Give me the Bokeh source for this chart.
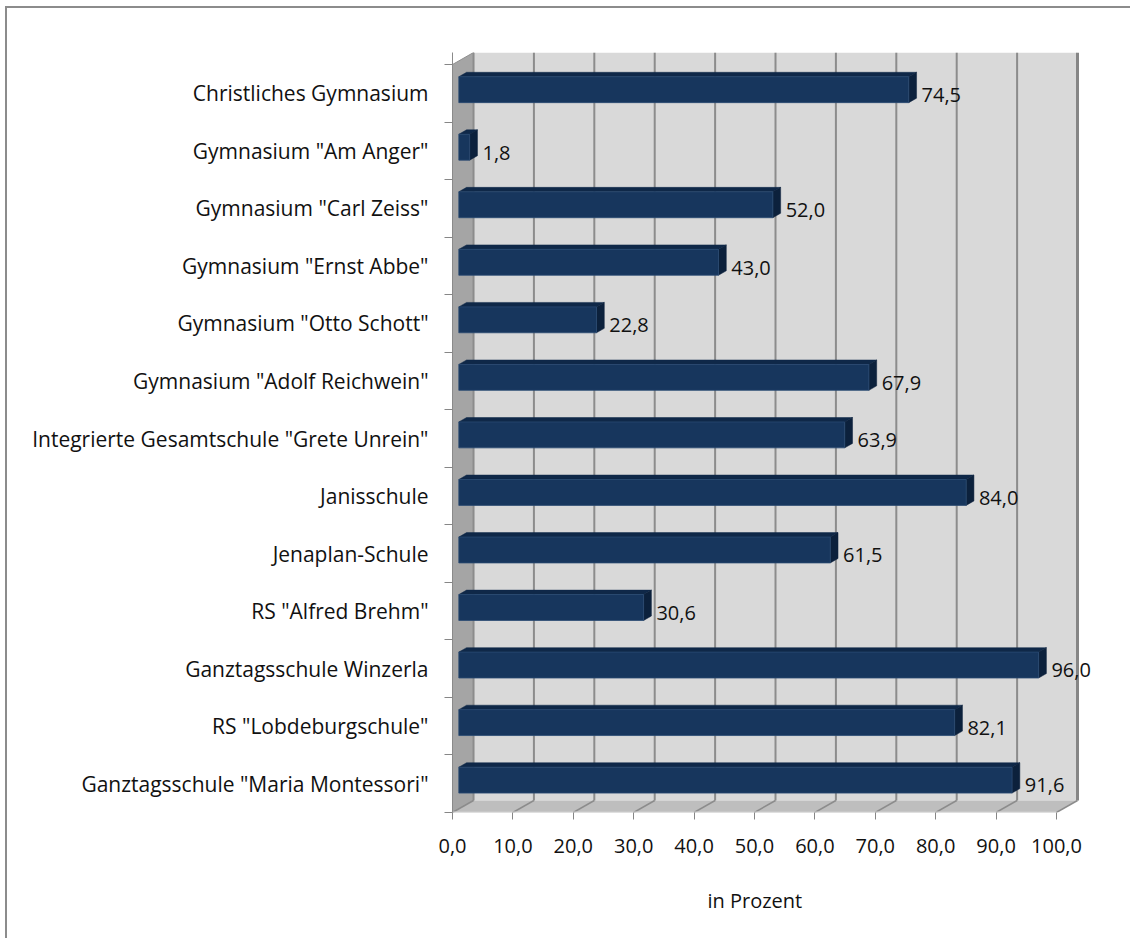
from bokeh.plotting import figure
from bokeh.models import Range1d, FixedTicker, CustomJSTickFormatter, ColumnDataSource, LabelSet, Title
from bokeh.core.properties import value
from bokeh.embed import file_html
from bokeh.resources import INLINE

# ---- data ----
schools = [
    'Christliches Gymnasium',
    'Gymnasium "Am Anger"',
    'Gymnasium "Carl Zeiss"',
    'Gymnasium "Ernst Abbe"',
    'Gymnasium "Otto Schott"',
    'Gymnasium "Adolf Reichwein"',
    'Integrierte Gesamtschule "Grete Unrein"',
    'Janisschule',
    'Jenaplan-Schule',
    'RS "Alfred Brehm"',
    'Ganztagsschule Winzerla',
    'RS "Lobdeburgschule"',
    'Ganztagsschule "Maria Montessori"',
]
percent = [74.5, 1.8, 52.0, 43.0, 22.8, 67.9, 63.9, 84.0, 61.5, 30.6, 96.0, 82.1, 91.6]
x_ticks = [0, 10, 20, 30, 40, 50, 60, 70, 80, 90, 100]
x_title = "in Prozent"

# ---- 3D geometry (style) ----
FONT = "Open Sans"
FS = "20px"
FS_CAT = "21px"
n = len(schools)
XMAX = x_ticks[-1]
DX = 3.48      # depth offset in x (data units)
DY = 0.209     # depth offset in y (category units)
D0, D1 = 0.30, 0.67   # bar front/back depth fraction
H = 0.45       # bar height
WALL_W = 625   # px width of the plotting box incl. depth
FRAME_W = 655  # frame a bit wider so labels beyond the wall are not clipped
PXU = WALL_W / (XMAX + DX)

p = figure(frame_width=FRAME_W, frame_height=760,
           x_range=Range1d(0, FRAME_W / PXU), y_range=Range1d(0, n + DY),
           output_backend="svg", toolbar_location=None,
           min_border_left=445, min_border_right=23,
           min_border_top=44, min_border_bottom=124,
           background_fill_color="white", border_fill_color="white")
p.outline_line_color = None
p.xgrid.visible = False
p.ygrid.visible = False
p.styles = {"border-left": "2px solid #8c8c8c", "border-top": "2px solid #8c8c8c",
            "margin-left": "5px", "margin-top": "6px"}

# walls
p.patch([DX, XMAX + DX, XMAX + DX, DX], [DY, DY, n + DY, n + DY],
        fill_color="#d9d9d9", line_color=None)
p.patch([0, DX, DX, 0], [0, DY, n + DY, n],
        fill_color="#a5a5a5", line_color="#8f8f8f", line_width=1)
p.patch([0, XMAX, XMAX + DX, DX], [0, 0, DY, DY],
        fill_color="#bebebe", line_color=None)

# gridlines on back wall and floor
for t in x_ticks:
    if t == XMAX:
        p.line([t + DX, t + DX], [DY, n + DY], line_color="#868686", line_width=3)
    else:
        p.line([t + DX, t + DX], [DY, n + DY], line_color="#8c8c8c", line_width=2)
    p.line([t, t + DX], [0, DY], line_color="#8c8c8c", line_width=1.5)
p.line([0, XMAX], [0, 0], line_color="#cfcfcf", line_width=2)

# bars
fx, fy, tx, ty, ex, ey = [], [], [], [], [], []
lx, ly, lt = [], [], []
for i, v in enumerate(percent):
    c = n - i - 0.5
    bot, top = c - H / 2, c + H / 2
    x0, y0 = D0 * DX, D0 * DY
    x1, y1 = D1 * DX, D1 * DY
    fx.append([x0, v + x0, v + x0, x0]); fy.append([bot + y0, bot + y0, top + y0, top + y0])
    tx.append([x0, v + x0, v + x1, x1]); ty.append([top + y0, top + y0, top + y1, top + y1])
    ex.append([v + x0, v + x1, v + x1, v + x0]); ey.append([bot + y0, bot + y1, top + y1, top + y0])
    lx.append(v + x1); ly.append(c - 0.03)
    lt.append(f"{v:.1f}".replace(".", ","))

p.patches(tx, ty, fill_color="#0f2848", line_color="#0f2848", line_width=0.5)
p.patches(ex, ey, fill_color="#0c213c", line_color="#0c213c", line_width=0.5)
p.patches(fx, fy, fill_color="#17365d", line_color="#2a4a72", line_width=0.8)

src = ColumnDataSource(dict(x=lx, y=ly, t=lt))
p.add_layout(LabelSet(x="x", y="y", text="t", source=src, x_offset=5,
                      text_font=value(FONT), text_font_size=value(FS), text_color="#111111",
                      text_align="left", text_baseline="middle"))

# x axis
xa = p.xaxis[0]
xa.ticker = FixedTicker(ticks=x_ticks)
xa.formatter = CustomJSTickFormatter(code="return tick.toFixed(1).replace('.', ',');")
xa.axis_line_color = None
xa.major_tick_line_color = "#868686"
xa.major_tick_in = 0
xa.major_tick_out = 7
xa.minor_tick_line_color = None
xa.major_label_standoff = 19
xa.major_label_text_font = FONT
xa.major_label_text_font_size = FS
xa.major_label_text_color = "#111111"

# axis title (centred under the 0..100 scale, not the whole frame)
p.add_layout(Title(text=x_title, align="left", offset=255, standoff=58,
                   text_font=FONT, text_font_size=FS, text_font_style="normal",
                   text_color="#111111"), "below")

# y axis
ya = p.yaxis[0]
ya.ticker = FixedTicker(ticks=[k + 0.5 for k in range(n)], minor_ticks=list(range(n + 1)))
ya.formatter = CustomJSTickFormatter(args=dict(labels=schools, n=n),
                                     code="const i = Math.round(n - tick - 0.5); return labels[i] || '';")
ya.axis_line_color = "#8a8a8a"
ya.major_tick_line_color = None
ya.major_tick_in = 0
ya.major_tick_out = 0
ya.minor_tick_line_color = "#868686"
ya.minor_tick_in = 0
ya.minor_tick_out = 8
ya.major_label_standoff = 16
ya.major_label_text_font = FONT
ya.major_label_text_font_size = FS_CAT
ya.major_label_text_color = "#111111"

open("out.html", "w").write(file_html(p, INLINE))
